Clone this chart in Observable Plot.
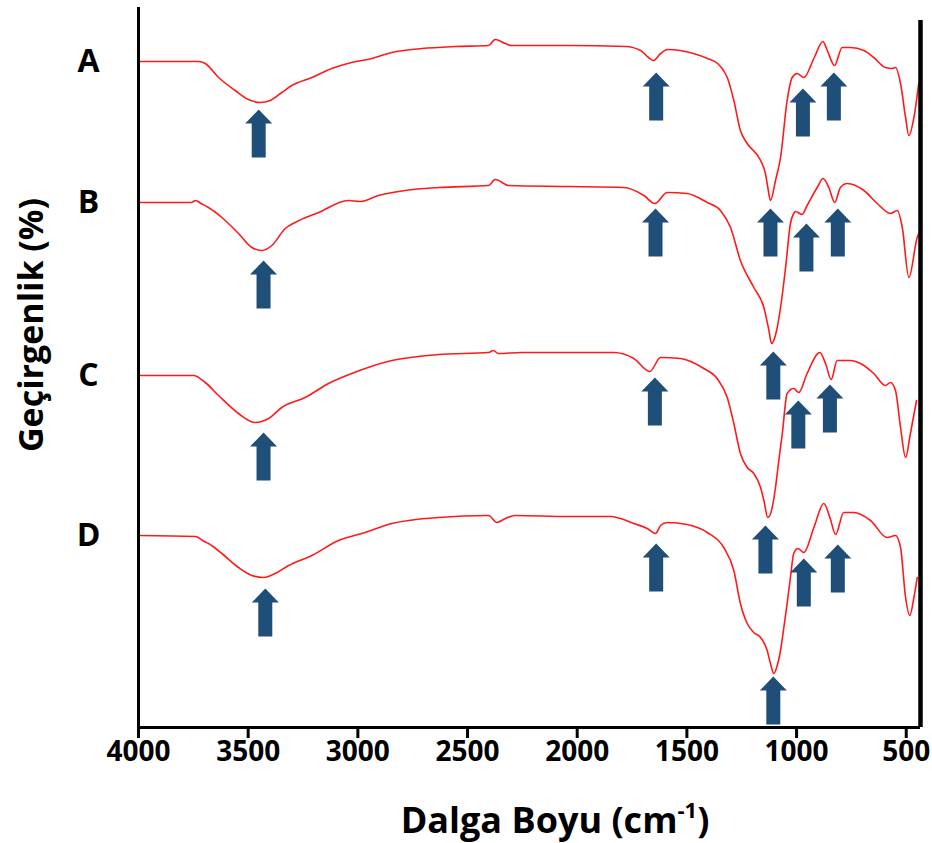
<!DOCTYPE html>
<html><head><meta charset="utf-8">
<script src="https://cdn.jsdelivr.net/npm/d3@7"></script>
<script src="https://cdn.jsdelivr.net/npm/@observablehq/plot@0.6"></script>
<style>html,body{margin:0;padding:0;background:#fff;} #chart{width:932px;height:843px;}</style>
</head><body><div id="chart"></div>
<script>
// Sample names (row labels)
const sampleNames = ["A", "B", "C", "D"];

// Spectra: [wavenumber (cm-1), transmittance (arbitrary offset %)]
const specA = [[4000,66.6],[3726,66.6],[3696,66.4],[3635,65.0],[3559,63.7],[3499,62.8],[3445,62.5],[3400,62.7],[3347,63.5],[3301,64.2],[3210,65.0],[3119,65.9],[3028,66.5],[2936,66.9],[2845,67.5],[2708,67.9],[2556,68.1],[2404,68.2],[2374,68.8],[2328,68.4],[2298,68.2],[2040,68.2],[1780,68.1],[1711,67.7],[1675,67.0],[1652,66.7],[1620,67.4],[1588,67.8],[1470,67.4],[1406,66.9],[1360,66.4],[1333,65.7],[1316,65.0],[1286,62.7],[1256,59.7],[1225,58.4],[1164,56.7],[1142,55.4],[1131,54.0],[1119,52.7],[1096,54.7],[1073,57.0],[1043,62.7],[1020,65.0],[997,65.4],[967,65.0],[921,66.9],[880,68.6],[860,67.7],[827,66.2],[792,68.0],[754,68.0],[693,67.7],[648,67.0],[595,66.0],[564,65.9],[549,66.0],[526,64.4],[503,61.0],[488,59.2],[465,61.0],[443,64.4]];
const specB = [[4000,52.5],[3760,52.5],[3740,52.7],[3715,52.4],[3681,52.0],[3620,51.0],[3544,49.4],[3483,48.0],[3438,47.7],[3392,48.2],[3331,49.9],[3286,50.5],[3179,51.5],[3043,52.7],[2990,52.6],[2906,53.2],[2784,53.7],[2632,54.0],[2404,54.2],[2374,54.8],[2313,54.2],[2040,54.1],[1788,54.0],[1696,53.2],[1646,52.4],[1590,53.5],[1499,53.4],[1407,52.5],[1347,51.7],[1301,50.0],[1256,46.7],[1195,44.0],[1149,42.0],[1126,39.7],[1114,38.4],[1091,39.7],[1073,42.0],[1050,46.0],[1028,50.4],[1013,51.4],[1005,51.6],[975,51.3],[952,52.2],[906,54.0],[879,54.9],[853,54.0],[826,52.5],[800,54.0],[769,54.4],[693,53.7],[632,52.4],[572,51.4],[541,51.7],[518,50.0],[488,45.0],[450,49.0],[443,49.4]];
const specC = [[4000,35.2],[3749,35.2],[3696,34.5],[3635,33.2],[3544,31.4],[3468,30.5],[3407,30.9],[3347,32.0],[3240,33.0],[3134,34.4],[3028,35.4],[2845,36.7],[2632,37.3],[2404,37.5],[2382,37.7],[2360,37.4],[2253,37.5],[2040,37.5],[1833,37.5],[1742,36.9],[1669,35.6],[1620,37.0],[1529,36.9],[1423,35.9],[1362,34.9],[1316,33.0],[1286,30.4],[1256,27.4],[1225,26.0],[1195,25.4],[1164,24.0],[1149,22.7],[1131,21.0],[1111,22.0],[1096,24.0],[1081,26.7],[1065,29.4],[1043,33.4],[1013,33.9],[990,33.5],[952,35.4],[894,37.5],[868,36.4],[842,34.8],[815,36.7],[754,36.7],[709,36.4],[648,35.4],[595,34.2],[572,34.5],[549,33.7],[526,30.0],[503,27.0],[481,29.4],[453,32.7]];
const specD = [[4000,19.2],[3740,19.1],[3700,18.6],[3681,18.4],[3620,17.4],[3544,16.0],[3483,15.2],[3430,15.0],[3377,15.4],[3316,16.2],[3210,17.2],[3088,18.7],[2967,19.5],[2845,20.4],[2632,21.0],[2404,21.2],[2366,20.5],[2328,20.9],[2283,21.2],[2040,21.1],[1848,21.1],[1742,20.4],[1681,19.9],[1643,19.4],[1620,20.2],[1590,20.5],[1499,20.3],[1407,19.5],[1332,18.0],[1286,15.7],[1256,12.4],[1225,10.4],[1195,9.5],[1164,9.0],[1134,7.7],[1119,6.4],[1104,5.4],[1088,6.2],[1073,7.7],[1058,10.0],[1043,12.4],[1028,15.0],[1013,17.4],[994,17.9],[967,17.5],[921,20.0],[876,22.4],[848,21.0],[822,19.3],[785,21.5],[739,21.5],[663,20.7],[587,19.0],[549,19.2],[526,18.0],[503,13.0],[484,11.2],[465,13.0],[450,15.0]];

// Peak-marker arrows: tip position (wavenumber, transmittance)
const arrowWn = [3452, 1640, 971, 830, 3430, 1643, 1119, 955, 812, 3430, 1646, 1106, 992, 848, 3422, 1640, 1142, 967, 812, 1106];
const arrowT  = [61.8, 65.5, 63.9, 65.5, 46.7, 51.9, 51.9, 50.4, 51.9, 29.5, 35.0, 37.6, 32.7, 34.3, 13.9, 18.4, 20.2, 16.9, 18.3, 5.1];

// Axis ticks and titles
const xTicks = [4000, 3500, 3000, 2500, 2000, 1500, 1000, 500];
const xTitleMain = "Dalga Boyu (cm";
const xTitleSup = "-1";
const xTitleEnd = ")";
const yTitle = "Geçirgenlik (%)";

const spectra = [specA, specB, specC, specD];
const rows = spectra.flatMap((s, i) => s.map(([wn, t]) => ({sample: sampleNames[i], wn, t})));
const arrows = arrowWn.map((wn, i) => ({wn, t: arrowT[i]}));
const labels = sampleNames.map((name, i) => ({name, t: spectra[i][0][1]}));

// Block arrow symbol, tip at the anchor point
const blockArrow = {
  draw(ctx) {
    ctx.moveTo(0, 0);
    ctx.lineTo(13.5, 14);
    ctx.lineTo(7, 14);
    ctx.lineTo(7, 48);
    ctx.lineTo(-7, 48);
    ctx.lineTo(-7, 14);
    ctx.lineTo(-13.5, 14);
    ctx.closePath();
  }
};

const font = "'Open Sans', sans-serif";

const chart = Plot.plot({
  width: 932,
  height: 843,
  marginLeft: 138,
  marginRight: 12,
  marginTop: 7,
  marginBottom: 116,
  style: {fontFamily: font, background: "#fff", color: "#000", overflow: "visible"},
  x: {domain: [4000, 435], axis: null},
  y: {domain: [0, 72], axis: null},
  marks: [
    Plot.line(rows, {x: "wn", y: "t", z: "sample", stroke: "#ff1a1a", strokeWidth: 1.6, curve: "monotone-x"}),
    Plot.dot(arrows, {x: "wn", y: "t", symbol: blockArrow, r: 10, fill: "#1f4e79", stroke: "none"}),
    Plot.ruleX([4000], {stroke: "#000", strokeWidth: 3}),
    Plot.ruleX([435], {y1: 0, y2: 70.7, stroke: "#000", strokeWidth: 4.5}),
    Plot.ruleY([0], {stroke: "#000", strokeWidth: 3}),
    Plot.axisX(xTicks, {tickSize: 11, tickPadding: 3, tickFormat: (d) => String(d), fontSize: 28, fontWeight: "bold", strokeWidth: 3, label: null}),
    Plot.text(labels, {y: "t", text: "name", frameAnchor: "left", textAnchor: "middle", dx: -50, fontSize: 32, fontWeight: "bold"})
  ]
});

const svg = d3.select(chart);
const xt = svg.append("text")
  .attr("x", 555).attr("y", 833)
  .attr("text-anchor", "middle")
  .attr("font-family", font).attr("font-size", 36).attr("font-weight", "bold").attr("fill", "#000");
xt.append("tspan").text(xTitleMain);
xt.append("tspan").attr("font-size", 22).attr("dy", -15).text(xTitleSup);
xt.append("tspan").attr("font-size", 36).attr("dy", 15).text(xTitleEnd);

svg.append("text")
  .attr("transform", "translate(43,325) rotate(-90)")
  .attr("text-anchor", "middle")
  .attr("font-family", font).attr("font-size", 34).attr("font-weight", "bold").attr("fill", "#000")
  .text(yTitle);

document.getElementById("chart").appendChild(chart);
</script>
</body></html>
